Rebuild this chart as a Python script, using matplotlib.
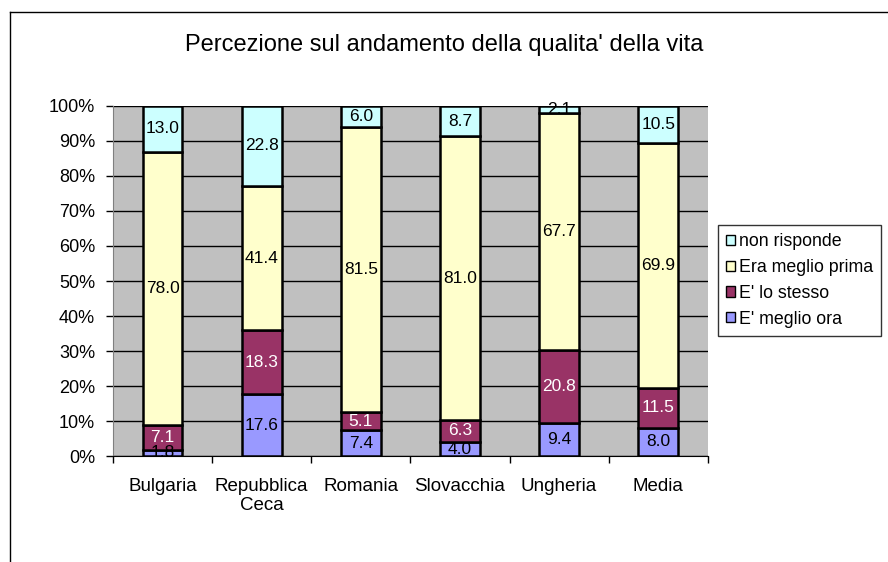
import numpy as np
import matplotlib.pyplot as plt
from matplotlib.lines import Line2D
from matplotlib.patches import Patch

plt.rcParams['font.family'] = ['Liberation Sans', 'DejaVu Sans']

paesi = ['Bulgaria', 'Repubblica\nCeca', 'Romania', 'Slovacchia', 'Ungheria', 'Media']
meglio_ora = [1.8, 17.6, 7.4, 4.0, 9.4, 8.0]
lo_stesso = [7.1, 18.3, 5.1, 6.3, 20.8, 11.5]
meglio_prima = [78.0, 41.4, 81.5, 81.0, 67.7, 69.9]
non_risponde = [13.0, 22.8, 6.0, 8.7, 2.1, 10.5]

serie = [("E' meglio ora", meglio_ora, '#9999FF', 'black'),
         ("E' lo stesso", lo_stesso, '#993366', 'white'),
         ('Era meglio prima', meglio_prima, '#FFFFCC', 'black'),
         ('non risponde', non_risponde, '#CCFFFF', 'black')]

fig = plt.figure(figsize=(8.88, 5.62), dpi=100)
ax = fig.add_axes([0.1273, 0.1886, 0.797 - 0.1273, 0.8114 - 0.1886])
ax.set_facecolor('#C0C0C0')

x = np.arange(len(paesi))
tot = np.sum([s[1] for s in serie], axis=0)
base = np.zeros(len(paesi))
for nome, val, col, tcol in serie:
    v = np.array(val) / tot * 100
    ax.bar(x, v, 0.4, bottom=base, color=col, edgecolor='black', linewidth=1.8, label=nome, zorder=3)
    for xi, b, vi, lab in zip(x, base, v, val):
        ax.text(xi, b + vi / 2, f'{lab:.1f}', ha='center', va='center', fontsize=12.5, color=tcol, zorder=4)
    base += v

ax.set_xlim(-0.5, len(paesi) - 0.5)
ax.set_ylim(0, 100)
ax.set_yticks(np.arange(0, 101, 10))
ax.set_yticklabels([f'{t}%' for t in range(0, 101, 10)], fontsize=13)
ax.yaxis.grid(True, color='black', linewidth=1, zorder=1)
ax.set_axisbelow(True)
ax.set_xticks(x)
ax.set_xticklabels(paesi, fontsize=13.5, linespacing=1.1)
ax.set_xticks(np.arange(-0.5, len(paesi), 1), minor=True)
ax.tick_params(axis='x', which='major', length=0, pad=16)
ax.tick_params(axis='x', which='minor', length=5, width=1)
ax.tick_params(axis='y', length=5, width=1, pad=8)
for s in ['top', 'right']:
    ax.spines[s].set_visible(False)
ax.spines['left'].set_color('#808080')
ax.spines['bottom'].set_color('black')

fig.text(0.5, 0.92, "Percezione sul andamento della qualita' della vita", ha='center', va='center', fontsize=17)

handles = [Patch(facecolor=s[2], edgecolor='black', label=s[0]) for s in reversed(serie)]
leg = fig.legend(handles=handles, loc='upper left', bbox_to_anchor=(718 / 888, 1 - 225 / 562),
                 fontsize=12.8, frameon=True, fancybox=False, edgecolor='black',
                 handlelength=0.5, handleheight=0.5, handletextpad=0.25, labelspacing=0.5,
                 borderpad=0.45, borderaxespad=0)
leg.get_frame().set_linewidth(1)

fig.add_artist(Line2D([10 / 888, 1], [1 - 12 / 562, 1 - 12 / 562], color='black', linewidth=1))
fig.add_artist(Line2D([10 / 888, 10 / 888], [0, 1 - 12 / 562], color='black', linewidth=1))

fig.savefig('out.png', dpi=100)
